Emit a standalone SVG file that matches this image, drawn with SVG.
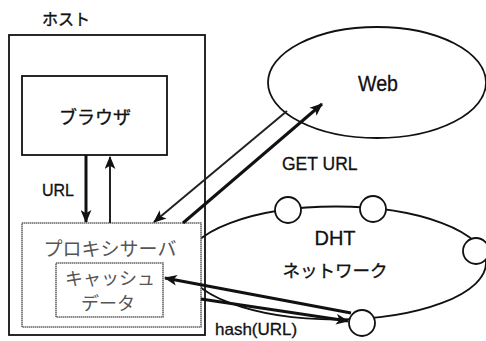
<svg xmlns="http://www.w3.org/2000/svg" width="486" height="341" viewBox="0 0 486 341">
  <style>
    .box { fill: none; stroke: #111; stroke-width: 1.8; }
    .fillbox { fill: #fff; stroke: #666; stroke-width: 1.6; stroke-dasharray: 1.5 0.5; }
    .cloud { fill: none; stroke: #111; stroke-width: 1.8; }
    .peer { fill: #fff; stroke: #111; stroke-width: 1.8; }
    .jp { font-family: "Noto Sans CJK JP", "Noto Sans", sans-serif; fill: #111; stroke: #111; stroke-width: 0.35; }
    .jp-soft { font-family: "Noto Sans CJK JP", "Noto Sans", sans-serif; fill: #555; }
    .en { font-family: "Liberation Sans", Arial, sans-serif; fill: #111; stroke: #111; stroke-width: 0.3; }
    .thick { stroke: #111; stroke-width: 3; fill: none; }
    .thin { stroke: #222; stroke-width: 2; fill: none; }
  </style>
  <defs>
    <marker id="ah" viewBox="0 0 12 10" refX="11" refY="5" markerWidth="13" markerHeight="11" markerUnits="userSpaceOnUse" orient="auto">
      <path d="M0,0 L12,5 L0,10 L3,5 Z" fill="#111"/>
    </marker>
  </defs>

  <rect width="486" height="341" fill="#fff"/>

  <!-- DHT ring behind the host -->
  <g id="dht">
    <ellipse class="cloud" cx="336" cy="263" rx="150" ry="56.5"/>
    <text class="en" x="335" y="245" font-size="20" text-anchor="middle">DHT</text>
    <text class="jp" x="335" y="277" font-size="17.5" text-anchor="middle">ネットワーク</text>
  </g>

  <!-- Web cloud -->
  <g id="web">
    <ellipse class="cloud" cx="377" cy="82.5" rx="109" ry="55.5"/>
    <text class="en" x="378" y="91" font-size="22" text-anchor="middle" textLength="40" lengthAdjust="spacingAndGlyphs">Web</text>
  </g>

  <!-- Host frame -->
  <g id="host">
    <text class="jp" x="66" y="25" font-size="16" text-anchor="middle">ホスト</text>
    <rect class="box" x="9" y="35" width="196" height="300"/>
  </g>

  <g id="browser">
    <rect class="box" x="22" y="76" width="145" height="79" fill="#fff"/>
    <text class="jp" x="95" y="124" font-size="18" text-anchor="middle">ブラウザ</text>
  </g>

  <g id="proxy">
    <rect class="fillbox" x="22" y="223" width="179" height="104"/>
    <text class="jp-soft" x="110" y="256" font-size="19" text-anchor="middle">プロキシサーバ</text>
  </g>

  <g id="cache">
    <rect class="fillbox" x="56" y="263" width="107" height="54"/>
    <text class="jp-soft" x="110" y="285" font-size="18" text-anchor="middle">キャッシュ</text>
    <text class="jp-soft" x="108" y="310" font-size="18" text-anchor="middle">データ</text>
  </g>

  <!-- Peers on the DHT ring -->
  <g id="peer-top-left"><circle class="peer" cx="288" cy="210" r="13"/></g>
  <g id="peer-top-right"><circle class="peer" cx="373" cy="209" r="13"/></g>
  <g id="peer-right"><circle class="peer" cx="476" cy="251" r="13"/></g>
  <g id="peer-bottom"><circle class="peer" cx="362" cy="323" r="13"/></g>

  <!-- Connectors -->
  <g id="connectors">
    <line class="thick" x1="86" y1="155" x2="86" y2="222" marker-end="url(#ah)"/>
    <line class="thin" x1="110" y1="223" x2="110" y2="157" marker-end="url(#ah)"/>
    <line class="thin" x1="287" y1="111" x2="154" y2="222" marker-end="url(#ah)"/>
    <line class="thick" x1="183" y1="223" x2="322" y2="104" marker-end="url(#ah)"/>
    <line class="thick" x1="351" y1="313" x2="165" y2="278" marker-end="url(#ah)"/>
    <line class="thick" x1="201" y1="299" x2="348" y2="321" marker-end="url(#ah)"/>
  </g>

  <g id="labels">
    <text class="en" x="42" y="196" font-size="16">URL</text>
    <text class="en" x="282" y="170" font-size="17.5">GET URL</text>
    <text class="en" x="215" y="335" font-size="17">hash(URL)</text>
  </g>
</svg>
